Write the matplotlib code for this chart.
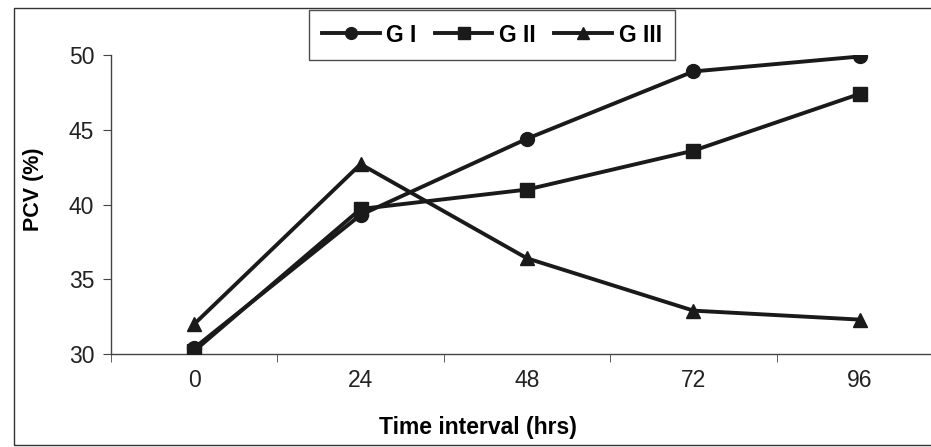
import matplotlib
matplotlib.use("Agg")
import matplotlib.pyplot as plt
from matplotlib.patches import Rectangle

# PCV readings per group over time
time_labels = ["0", "24", "48", "72", "96"]
g1 = [30.4, 39.3, 44.4, 48.9, 49.9]
g2 = [30.2, 39.7, 41.0, 43.6, 47.4]
g3 = [32.0, 42.7, 36.4, 32.9, 32.3]
series_names = ["G I", "G II", "G III"]
y_ticks = [30, 35, 40, 45, 50]

plt.rcParams["font.family"] = ["Liberation Sans", "DejaVu Sans"]

W, H = 931, 447
fig = plt.figure(figsize=(W / 100, H / 100), dpi=100)
fig.patch.set_facecolor("white")

# outer chart frame
fig.add_artist(Rectangle((14 / W, 1 - 445 / H), (940 - 14) / W, (445 - 8) / H,
                         transform=fig.transFigure, fill=False,
                         edgecolor="#333333", linewidth=1.0))

left, right = 111, 943
top, bottom = 55, 354
ax = fig.add_axes([left / W, 1 - bottom / H, (right - left) / W, (bottom - top) / H])
ax.set_facecolor("none")

x = list(range(len(time_labels)))
lw = 2.8
ax.plot(x, g1, color="#1a1a1a", lw=lw, marker="o", ms=10, label=series_names[0], zorder=3)
ax.plot(x, g2, color="#1a1a1a", lw=lw, marker="s", ms=10, label=series_names[1], zorder=3)
ax.plot(x, g3, color="#1a1a1a", lw=lw, marker="^", ms=10, label=series_names[2], zorder=3)

ax.set_xlim(-0.5, len(time_labels) - 0.5)
ax.set_ylim(30, 50)
ax.set_yticks(y_ticks)
ax.set_yticklabels([str(v) for v in y_ticks], fontsize=16.5, color="#222222")
ax.set_xticks(x)
ax.set_xticklabels(time_labels, fontsize=16.5, color="#222222")
ax.tick_params(axis="x", length=0, pad=11)
ax.set_xticks([i + 0.5 for i in range(-1, len(time_labels))], minor=True)
ax.tick_params(axis="x", which="minor", length=6, direction="out", color="#444444")
ax.tick_params(axis="y", length=6, direction="out", color="#444444", pad=6)

for side in ("top", "right"):
    ax.spines[side].set_visible(False)
for side in ("left", "bottom"):
    ax.spines[side].set_color("#444444")
    ax.spines[side].set_linewidth(1.0)

ax.set_xlabel("Time interval (hrs)", fontsize=16.5, fontweight="bold")
ax.set_ylabel("PCV (%)", fontsize=15.5, fontweight="bold")
ax.yaxis.set_label_coords((44 - left) / (right - left), (bottom - 189) / (bottom - top))
ax.xaxis.set_label_coords((478 - left) / (right - left), -(416 - bottom) / (bottom - top))

leg = fig.legend(loc="center", bbox_to_anchor=(492 / W, 1 - 35 / H), ncol=3,
                 frameon=True, fancybox=False, edgecolor="#222222",
                 prop={"size": 16.5, "weight": "bold"}, handlelength=2.5,
                 handletextpad=0.3, columnspacing=0.8, borderpad=0.6,
                 markerscale=0.85)
leg.get_frame().set_linewidth(1.0)

fig.savefig("out.png", dpi=100, facecolor="white")
